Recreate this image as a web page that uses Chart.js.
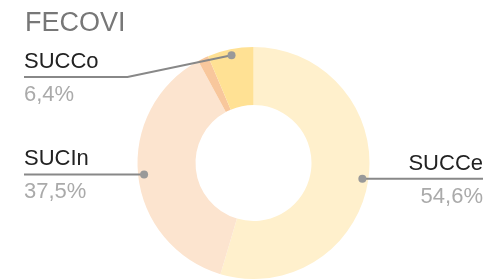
<!DOCTYPE html>
<html>
<head>
<meta charset="utf-8">
<script src="https://cdn.jsdelivr.net/npm/chart.js@4"></script>
<style>
  html, body { margin: 0; padding: 0; background: #fff; }
  #wrap { width: 490px; height: 279px; }
</style>
</head>
<body>
<div id="wrap"><canvas id="c" width="490" height="279"></canvas></div>
<script>
const title = "FECOVI";
const labels = ["SUCCe", "SUCIn", "", "SUCCo"];
const values = [54.6, 37.5, 1.5, 6.4];
const valueText = ["54,6%", "37,5%", "", "6,4%"];
const colors = ["#FFF0CC", "#FCE4CF", "#F8C79C", "#FFE194"];

const FONT = '"Liberation Sans", Arial, sans-serif';

const labelPlugin = {
  id: "leaderLabels",
  afterDraw(chart) {
    const ctx = chart.ctx;
    ctx.save();
    // title
    ctx.fillStyle = "#777";
    ctx.font = "27px " + FONT;
    ctx.textBaseline = "alphabetic";
    ctx.textAlign = "left";
    ctx.fillText(title, 25, 31);

    const arcs = chart.getDatasetMeta(0).data;
    arcs.forEach((arc, i) => {
      if (!labels[i]) return;
      const { x: cx, y: cy, startAngle, endAngle, outerRadius } = arc.getProps(["x", "y", "startAngle", "endAngle", "outerRadius"], true);
      const mid = (startAngle + endAngle) / 2;
      const r = outerRadius - 6;
      const dx = cx + Math.cos(mid) * r;
      const dy = cy + Math.sin(mid) * r;
      const right = Math.cos(mid) >= 0;
      const ly = Math.max(dy, 77);
      const elbowX = right ? cx + outerRadius + 10 : cx - outerRadius - 10;
      const endX = right ? 483 : 24;

      ctx.strokeStyle = "#888";
      ctx.lineWidth = 2;
      ctx.beginPath();
      ctx.moveTo(dx, dy);
      if (right ? dx < elbowX : dx > elbowX) ctx.lineTo(elbowX, ly);
      ctx.lineTo(endX, ly);
      ctx.stroke();

      ctx.fillStyle = "#999";
      ctx.beginPath();
      ctx.arc(dx, dy, 4, 0, Math.PI * 2);
      ctx.fill();

      ctx.textAlign = right ? "right" : "left";
      ctx.font = "22px " + FONT;
      ctx.fillStyle = "#222";
      ctx.fillText(labels[i], endX, ly - 9);
      ctx.fillStyle = "#aaa";
      ctx.fillText(valueText[i], endX, ly + 24);
    });
    ctx.restore();
  }
};

new Chart(document.getElementById("c"), {
  type: "doughnut",
  data: {
    labels: labels,
    datasets: [{
      data: values,
      backgroundColor: colors,
      borderWidth: 0
    }]
  },
  options: {
    responsive: false,
    animation: false,
    cutout: "50%",
    layout: { padding: { left: 17, top: 47, right: 0, bottom: 0 } },
    plugins: {
      legend: { display: false },
      tooltip: { enabled: false },
      title: { display: false }
    }
  },
  plugins: [labelPlugin]
});
</script>
</body>
</html>
